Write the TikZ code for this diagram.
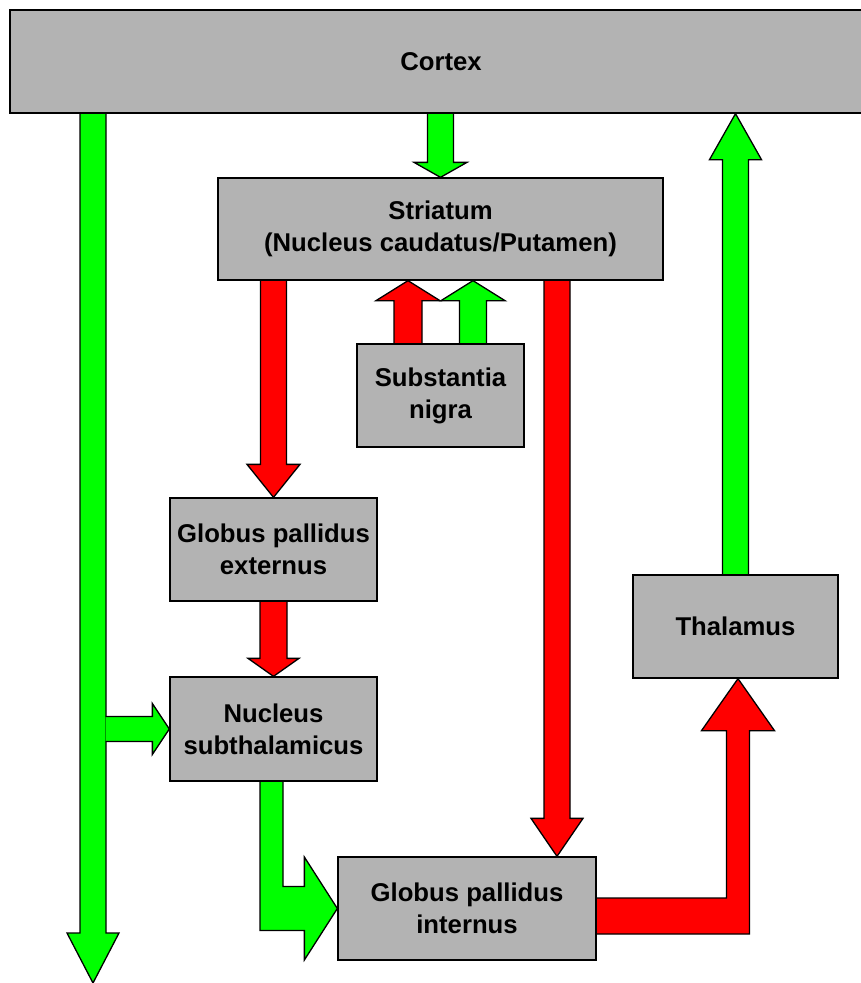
\documentclass[tikz,border=0pt]{standalone}
\usepackage{fontspec}
\setmainfont{Liberation Sans}
\usetikzlibrary{calc,backgrounds}
\definecolor{boxgray}{RGB}{179,179,179}
\definecolor{arrgreen}{RGB}{0,255,0}
\definecolor{arrred}{RGB}{255,0,0}
\tikzset{
  region/.style={draw=black, fill=boxgray, line width=1.3pt, inner sep=0pt, align=center,
    font=\bfseries\fontsize{25.7}{32}\selectfont},
  blockarrow/.style={draw=black, line width=1.3pt, line join=miter},
}
% vertical block arrow: #1 colour, #2 start, #3 tip, #4 shaft half width, #5 head half width, #6 signed head length
\newcommand{\vblock}[6]{%
  \filldraw[blockarrow, fill=#1] let \p1=#2, \p2=#3 in
    ({\x2-#4pt},\y1) -- ({\x2-#4pt},{\y2+(#6)*1pt}) -- ({\x2-#5pt},{\y2+(#6)*1pt}) -- (\x2,\y2)
    -- ({\x2+#5pt},{\y2+(#6)*1pt}) -- ({\x2+#4pt},{\y2+(#6)*1pt}) -- ({\x2+#4pt},\y1);}
\begin{document}
\begin{tikzpicture}[x=1pt,y=-1pt]
\useasboundingbox (0,0) rectangle (861,983);
\clip (0,0) rectangle (861,983);
\node[region, minimum width=862pt, minimum height=103pt] (cortex) at (441,61.5) {Cortex};
\node[region, minimum width=445pt, minimum height=102pt] (striatum) at (440.5,229) {Striatum\\(Nucleus caudatus/Putamen)};
\node[region, minimum width=167pt, minimum height=103pt] (sn) at (440.5,395.5) {Substantia\\nigra};
\node[region, minimum width=207pt, minimum height=103pt] (gpe) at (273.5,549.5) {Globus pallidus\\externus};
\node[region, minimum width=207pt, minimum height=104pt] (stn) at (273.5,729) {Nucleus\\subthalamicus};
\node[region, minimum width=258pt, minimum height=103pt] (gpi) at (467,908.5) {Globus pallidus\\internus};
\node[region, minimum width=205pt, minimum height=103pt] (thal) at (735.5,626.5) {Thalamus};
\coordinate (leftend) at (93,983);
\begin{pgfonlayer}{background}
\vblock{arrgreen}{(cortex.south)}{(striatum.north)}{13}{26.5}{15}
\vblock{arrgreen}{(leftend |- cortex.south)}{(leftend)}{13}{26}{50}
\vblock{arrred}{(striatum.south)}{(gpe.north)}{13}{26.5}{33}
\vblock{arrred}{(gpe.south)}{(stn.north)}{13.5}{25.5}{18}
\vblock{arrred}{(striatum.south)}{([xshift=90pt]gpi.north)}{13}{26}{38}
\vblock{arrred}{(sn.north)}{([xshift=-32.5pt]striatum.south)}{14}{32}{-20}
\vblock{arrgreen}{(sn.north)}{([xshift=32.5pt]striatum.south)}{13.5}{32}{-20}
\vblock{arrgreen}{(thal.north)}{(thal.north |- cortex.south)}{13}{26}{-46}
% cortex pathway branch into the subthalamic nucleus
\filldraw[blockarrow, fill=arrgreen] let \p1=(leftend), \p2=(stn.west) in
  ({\x1+12.5pt},{\y2+12.5pt}) -- ({\x2-17pt},{\y2+12.5pt}) -- ({\x2-17pt},{\y2+25.5pt}) -- (\x2,\y2)
  -- ({\x2-17pt},{\y2-25.5pt}) -- ({\x2-17pt},{\y2-12.5pt}) -- ({\x1+12.5pt},{\y2-12.5pt});
% STN -> GPi bent arrow
\filldraw[blockarrow, fill=arrgreen] let \p1=(stn.south), \p2=(gpi.west) in
  ({\x1-13.5pt},\y1) -- ({\x1-13.5pt},{\y2-22pt}) -- ({\x2-33pt},{\y2-22pt}) -- ({\x2-33pt},{\y2-51.5pt})
  -- (\x2,\y2) -- ({\x2-33pt},{\y2+51.5pt}) -- ({\x2-33pt},{\y2+22pt}) -- ({\x1+9.5pt},{\y2+22pt}) -- ({\x1+9.5pt},\y1);
% GPi -> Thalamus bent arrow
\filldraw[blockarrow, fill=arrred] let \p1=(gpi.east), \p2=([xshift=2.5pt]thal.south) in
  (\x1,{\y1+10.5pt}) -- ({\x2-11.5pt},{\y1+10.5pt}) -- ({\x2-11.5pt},{\y2-52pt}) -- ({\x2-36.5pt},{\y2-52pt})
  -- (\x2,\y2) -- ({\x2+36.5pt},{\y2-52pt}) -- ({\x2+11.5pt},{\y2-52pt}) -- ({\x2+11.5pt},{\y1-25.5pt}) -- (\x1,{\y1-25.5pt});
\end{pgfonlayer}
\end{tikzpicture}
\end{document}
